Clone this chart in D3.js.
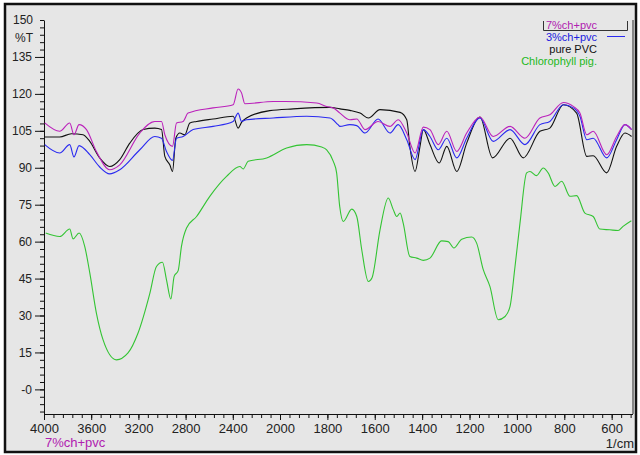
<!DOCTYPE html>
<html>
<head>
<meta charset="utf-8">
<script src="https://cdn.jsdelivr.net/npm/d3@7"></script>
<style>
  body { margin: 0; background: #fff; }
  svg { display: block; font-family: "Liberation Sans", Arial, sans-serif; }
</style>
</head>
<body>
<svg id="chart" width="640" height="455"></svg>
<script>
// [wavenumber 1/cm, %T]
let pvc7 = [[3994,108.2],[3867,104.8],[3782,108.2],[3746,103.4],[3703,107.5],[3640,105.5],[3556,96.6],[3443,89.2],[3358,91.2],
  [3188,104.1],[3061,108.8],[3004,108.8],[2976,103.4],[2911,98.7],[2877,108.2],[2821,108.8],[2779,112.2],[2567,114.3],[2397,115.6],
  [2355,122],[2326,120.4],[2298,116],[2058,116.9],[1979,116.9],[1845,116.3],[1803,114.9],[1775,114.3],[1747,112.2],[1705,109.5],
  [1676,109.8],[1641,105.5],[1586,108.8],[1536,106.8],[1501,109.5],[1465,104.1],[1430,96],[1395,106.5],[1367,105.5],[1332,99.4],
  [1296,104.8],[1254,96.6],[1212,104.1],[1156,110.6],[1100,102.7],[1029,106.8],[966,102],[903,110.2],[861,111.5],[804,116.5],
  [762,114.9],[734,112.2],[705,103.4],[678,104.8],[621,95.3],[579,102.7],[544,107.5],[516,105.5]];

let pvc3 = [[3994,99.4],[3867,96],[3782,99.4],[3746,94.4],[3703,99],[3612,95.3],[3528,90.3],[3443,87.5],[3358,89.2],[3188,97.3],
  [3061,102.7],[3004,102],[2962,96.6],[2911,93],[2877,102],[2821,102.7],[2736,105.5],[2567,106.8],[2397,108.8],[2355,112.2],
  [2326,108.8],[2284,109.5],[2058,110.2],[1887,110.9],[1789,110.2],[1755,107.5],[1747,106.8],[1705,107.5],[1676,107.1],[1641,104.1],
  [1586,109.8],[1536,104.1],[1501,107.5],[1465,101.4],[1430,93.3],[1395,105.5],[1367,102.7],[1332,97.3],[1296,102],[1254,94],
  [1212,102],[1156,110.2],[1100,100.7],[1029,105.5],[966,99.4],[903,107.5],[861,108.8],[804,115.6],[762,114.3],[734,110.9],
  [705,101.4],[678,102],[621,94],[579,101.4],[544,107.5],[516,105.5]];

let purePVC = [[3994,102.5],[3867,102.5],[3768,103.8],[3669,103.4],[3612,100.7],[3528,94],[3443,90.5],[3358,93.3],[3273,100],
  [3160,105.5],[3061,106.1],[3004,105.5],[2976,94.6],[2934,91.2],[2911,88.5],[2883,102],[2849,104.1],[2807,103.4],[2764,108.2],
  [2707,108.8],[2567,109.8],[2397,110.9],[2355,106.1],[2326,108.4],[2284,110.2],[2087,113.2],[1944,113.9],[1789,114.5],[1747,113.9],
  [1705,113.3],[1662,112.2],[1627,110.2],[1578,113.6],[1493,112.5],[1465,109.5],[1452,98.7],[1430,88.5],[1409,98.7],[1395,105.5],
  [1367,99.4],[1328,91.9],[1296,98.7],[1254,88.5],[1212,100],[1156,110.6],[1103,94],[1029,102],[973,94],[903,104.8],[861,106.1],
  [804,115.6],[748,112.2],[705,94.6],[678,94.9],[621,87.9],[579,98.7],[544,104.1],[516,102.7]];

let chlorophyll = [[3986,63.5],[3867,62.1],[3782,65.1],[3754,61.1],[3703,63.5],[3655,58.1],[3612,47.3],[3556,31],[3500,20.2],
  [3386,12],[3288,14.8],[3203,22.9],[3103,39],[3047,49.9],[2996,51.6],[2962,44.5],[2925,36.7],[2897,45.9],[2863,48.2],[2835,58.1],
  [2792,65.5],[2707,70.2],[2595,78.4],[2453,86.5],[2340,90.5],[2312,89.5],[2270,92.6],[2113,94],[1972,98],[1887,99.4],[1824,98.4],
  [1803,97.3],[1775,92.6],[1761,87.9],[1748,74.3],[1733,68.2],[1697,73.2],[1676,70.2],[1655,56.7],[1627,43.8],[1612,45.2],
  [1578,64.7],[1543,77.7],[1522,73],[1507,70.2],[1493,71.6],[1480,67.5],[1452,54],[1423,53.3],[1395,52.4],[1367,53.3],[1318,60.3],
  [1290,60],[1266,57.4],[1233,61],[1191,61.9],[1170,59.4],[1142,48.6],[1114,41.8],[1079,28.3],[1050,29.6],[1029,33.7],[1008,49.9],
  [987,67.5],[959,87.9],[945,88.5],[917,86.8],[889,89.9],[868,87.9],[839,82.4],[811,84.5],[776,78.4],[748,78.7],[713,71.6],
  [678,70.2],[650,65.1],[608,64.8],[573,64.5],[552,66.2],[517,68.5]];

let seriesNames = ["7%ch+pvc", "3%ch+pvc", "pure PVC", "Chlorophyll pig."];
let xTicks = [4000,3600,3200,2800,2400,2000,1800,1600,1400,1200,1000,800,600];
let yTicks = [135,120,105,90,75,60,45,30,15,0];

let svg = d3.select("#chart");

let x = d3.scaleLinear().domain([4000, 2000, 510]).range([44, 280, 633]);
let y = d3.scaleLinear().domain([-10, 150]).range([414, 20]);

let colors = {
  "7%ch+pvc": "#bb22bb",
  "3%ch+pvc": "#2a2af0",
  "pure PVC": "#111111",
  "Chlorophyll pig.": "#33c433"
};
let textColors = {
  "7%ch+pvc": "#b020b0",
  "3%ch+pvc": "#2020e0",
  "pure PVC": "#111111",
  "Chlorophyll pig.": "#22b822"
};

// frame
svg.append("rect").attr("x", 5).attr("y", 4).attr("width", 631).attr("height", 448)
  .style("fill", "#e6e6e6").style("stroke", "#111").style("stroke-width", 2.5);

// right edge of plot
svg.append("line").attr("x1", 633).attr("x2", 633).attr("y1", y(150)).attr("y2", y(-10))
  .style("stroke", "#666").style("stroke-width", 1.5);

// minor ticks
let minorX = d3.range(4000, 2000, -80).concat(d3.range(2000, 500, -40));
svg.append("g").attr("transform", "translate(0,414)")
  .call(d3.axisBottom(x).tickValues(minorX).tickSize(4).tickSizeOuter(0).tickFormat(""))
  .call(g => g.select(".domain").remove());
let minorY = d3.range(-9, 151, 3);
svg.append("g").attr("transform", "translate(44,0)")
  .call(d3.axisLeft(y).tickValues(minorY).tickSize(4).tickSizeOuter(0).tickFormat(""))
  .call(g => g.select(".domain").remove());

// major axes
let xAxis = svg.append("g").attr("transform", "translate(0,414)")
  .call(d3.axisBottom(x).tickValues(xTicks).tickSize(6).tickSizeOuter(0).tickPadding(4).tickFormat(d3.format("d")));
xAxis.select(".domain").attr("d", "M44,0.5H633");
xAxis.selectAll("text").style("font-size", "13px").style("fill", "#222").style("font-family", "Liberation Sans, Arial");

let yAxis = svg.append("g").attr("transform", "translate(44,0)")
  .call(d3.axisLeft(y).tickValues(yTicks).tickSize(9).tickSizeOuter(0).tickPadding(3)
    .tickFormat(d => d == 0 ? "-0" : d));
yAxis.selectAll("text").style("font-size", "12px").style("fill", "#222").style("font-family", "Liberation Sans, Arial");

svg.selectAll(".tick line").style("stroke", "#111");
svg.selectAll(".domain").style("stroke", "#111");

svg.append("text").attr("x", 33).attr("y", y(150) + 4).attr("text-anchor", "end")
  .style("font-size", "12px").style("fill", "#222").text("150");
svg.append("text").attr("x", 33).attr("y", 42).attr("text-anchor", "end")
  .style("font-size", "12px").style("fill", "#222").text("%T");

svg.append("text").attr("x", 45).attr("y", 447)
  .style("font-size", "13px").style("fill", textColors["7%ch+pvc"]).text("7%ch+pvc");
svg.append("text").attr("x", 634).attr("y", 448).attr("text-anchor", "end")
  .style("font-size", "13px").style("fill", "#222").text("1/cm");

// spectra
let line = d3.line().x(d => x(d[0])).y(d => y(d[1])).curve(d3.curveMonotoneX);
let data = [chlorophyll, purePVC, pvc3, pvc7];
let names = [seriesNames[3], seriesNames[2], seriesNames[1], seriesNames[0]];

svg.selectAll(".spectrum")
  .data(data)
  .enter()
  .append("path")
  .attr("class", "spectrum")
  .attr("d", d => line(d))
  .style("fill", "none")
  .style("stroke", (d, i) => colors[names[i]])
  .style("stroke-width", 1.1);

// legend
let legend = svg.append("g").attr("class", "legend");
legend.selectAll("text")
  .data(seriesNames)
  .enter()
  .append("text")
  .attr("x", 597)
  .attr("y", (d, i) => 29 + i * 12)
  .attr("text-anchor", "end")
  .style("font-size", "11px")
  .style("fill", d => textColors[d])
  .text(d => d);

legend.append("path").attr("d", "M543.5,21V30.5H627.5V21")
  .style("fill", "none").style("stroke", "#333").style("stroke-width", 1);
legend.append("line").attr("x1", 607).attr("x2", 625).attr("y1", 36.5).attr("y2", 36.5)
  .style("stroke", colors["3%ch+pvc"]).style("stroke-width", 1);
</script>
</body>
</html>
